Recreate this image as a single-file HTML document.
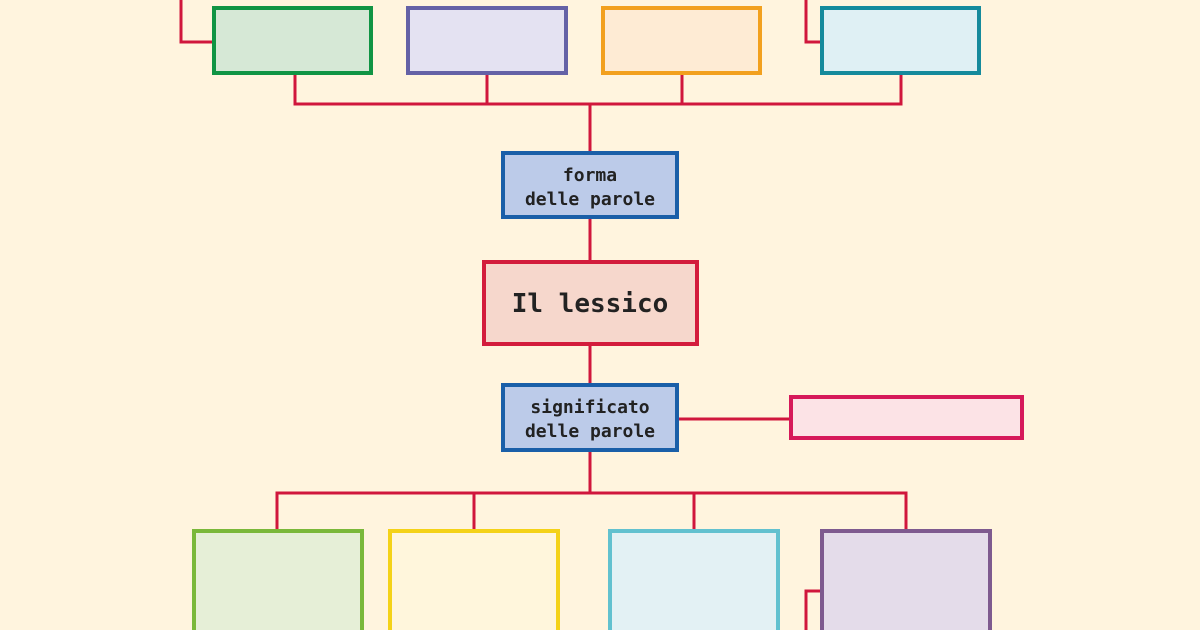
<!DOCTYPE html>
<html><head><meta charset="utf-8"><style>
html,body{margin:0;padding:0;background:#fff4de;width:1200px;height:630px;overflow:hidden}
text{font-family:"DejaVu Sans Mono","Liberation Mono",monospace;fill:#222;font-weight:bold}
</style></head><body>
<svg width="1200" height="630" viewBox="0 0 1200 630" xmlns="http://www.w3.org/2000/svg">
<rect width="1200" height="630" fill="#fff4de"/>
<g stroke="#d0163c" stroke-width="3" fill="none">
<polyline points="181,0 181,42 214,42"/>
<polyline points="806,0 806,42 822,42"/>
<polyline points="295,73 295,104 901,104 901,73"/>
<line x1="487" y1="73" x2="487" y2="104"/>
<line x1="682" y1="73" x2="682" y2="104"/>
<line x1="590" y1="104" x2="590" y2="153"/>
<line x1="590" y1="217" x2="590" y2="262"/>
<line x1="590" y1="344" x2="590" y2="385"/>
<line x1="677" y1="419" x2="791" y2="419"/>
<line x1="590" y1="450" x2="590" y2="493"/>
<polyline points="277,531 277,493 906,493 906,531"/>
<line x1="474" y1="493" x2="474" y2="531"/>
<line x1="694" y1="493" x2="694" y2="531"/>
<polyline points="806,630 806,591 822,591"/>
</g>
<g stroke-width="4">
<rect x="214" y="8" width="157" height="65" fill="#d6e8d6" stroke="#109444"/>
<rect x="408" y="8" width="158" height="65" fill="#e4e2f2" stroke="#6461a6"/>
<rect x="603" y="8" width="157" height="65" fill="#feebd4" stroke="#f2a01e"/>
<rect x="822" y="8" width="157" height="65" fill="#dff0f4" stroke="#158a9c"/>
<rect x="503" y="153" width="174" height="64" fill="#bccbe9" stroke="#1a5fa8"/>
<rect x="484" y="262" width="213" height="82" fill="#f6d7cc" stroke="#d31c3c"/>
<rect x="503" y="385" width="174" height="65" fill="#bccbe9" stroke="#1a5fa8"/>
<rect x="791" y="397" width="231" height="41" fill="#fce3e6" stroke="#d6195a"/>
<rect x="194" y="531" width="168" height="110" fill="#e6efd7" stroke="#7ab83a"/>
<rect x="390" y="531" width="168" height="110" fill="#fff6dc" stroke="#f4d218"/>
<rect x="610" y="531" width="168" height="110" fill="#e3f1f4" stroke="#62c1cf"/>
<rect x="822" y="531" width="168" height="110" fill="#e4dcea" stroke="#7e5a8f"/>
</g>
<g text-anchor="middle" font-size="18">
<text x="590" y="181">forma</text>
<text x="590" y="205">delle parole</text>
<text x="590" y="413">significato</text>
<text x="590" y="437">delle parole</text>
<text x="590" y="312" font-size="26">Il lessico</text>
</g>
</svg>
</body></html>
